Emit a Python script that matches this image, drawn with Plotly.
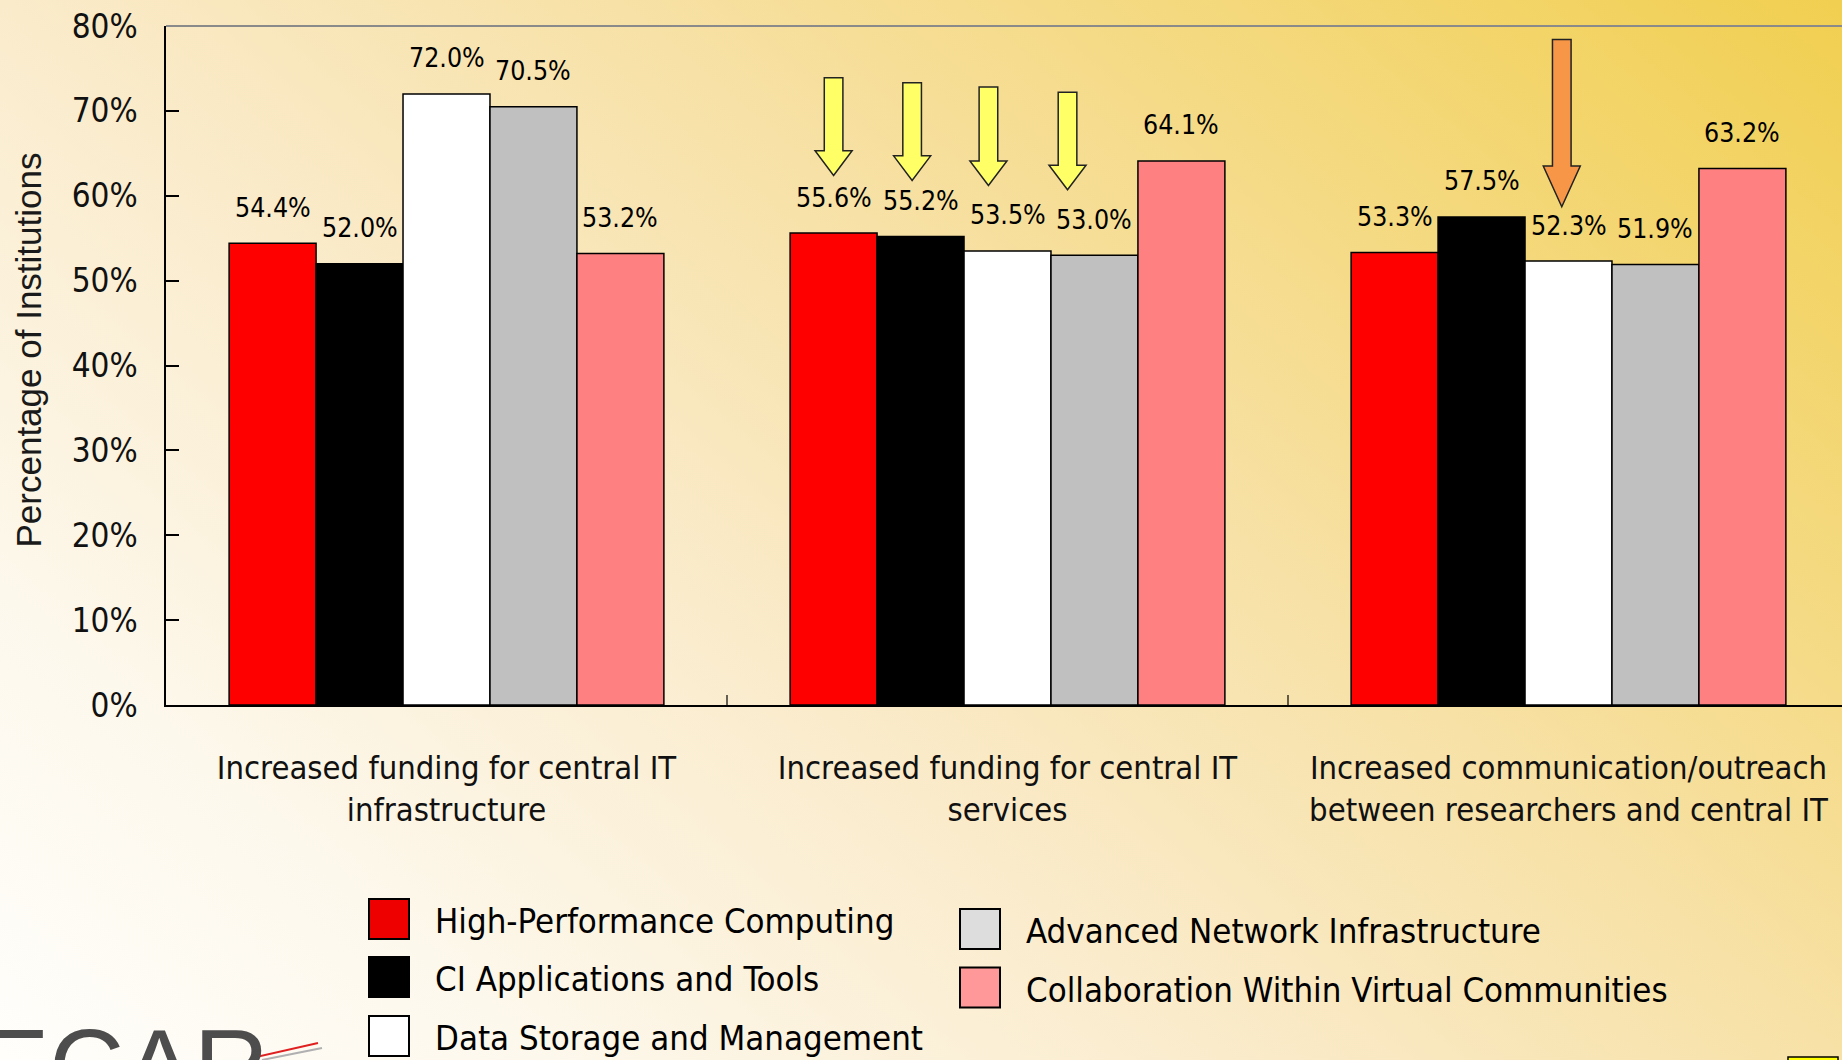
import base64
import plotly.graph_objects as go

# ---------------- data ----------------
categories = [
    "Increased funding for central IT<br>infrastructure",
    "Increased funding for central IT<br>services",
    "Increased communication/outreach<br>between researchers and central IT",
]
series_names = [
    "High-Performance Computing",
    "CI Applications and Tools",
    "Data Storage and Management",
    "Advanced Network Infrastructure",
    "Collaboration Within Virtual Communities",
]
hpc = [54.4, 55.6, 53.3]
ci_apps = [52.0, 55.2, 57.5]
data_storage = [72.0, 53.5, 52.3]
network = [70.5, 53.0, 51.9]
collab = [53.2, 64.1, 63.2]
y_ticks = [0, 10, 20, 30, 40, 50, 60, 70, 80]
y_tick_labels = [f"{v}%" for v in y_ticks]

series_values = [hpc, ci_apps, data_storage, network, collab]

# ---------------- styles ----------------
bar_colors = ["#FF0000", "#000000", "#FFFFFF", "#C0C0C0", "#FF8080"]
legend_colors = ["#EE0000", "#000000", "#FFFFFF", "#DDDDDD", "#FF9999"]
NARROW = "DejaVu Sans Condensed, Liberation Sans Narrow, sans-serif"
REGULAR = "Liberation Sans, Arial, sans-serif"

W, H = 1842, 1060
ML, MR, MT, MB = 166, 0, 26, 355
PW, PH = W - ML - MR, H - MT - MB
CAT_PX = 561.0
BARGAP = 0.225
N = len(series_names)
BW = (1 - BARGAP) / N


def px_x(px):
    return (px - ML) / PW


def px_y(py):
    return (H - MB - py) / PH


xpos = list(range(len(categories)))

fig = go.Figure()
for name, vals, col in zip(series_names, series_values, bar_colors):
    fig.add_trace(go.Bar(
        x=xpos, y=vals, name=name, marker=dict(color=col, line=dict(color="black", width=1.5)),
        showlegend=False, hoverinfo="skip",
    ))

annotations = []
shapes = []

# value labels
for i, vals in enumerate(series_values):
    for g, v in enumerate(vals):
        annotations.append(dict(
            x=g + (i - (N - 1) / 2) * BW, y=v, xref="x", yref="y", text=f"{v:.1f}%",
            showarrow=False, yshift=36, xanchor="center", yanchor="middle",
            font=dict(family=NARROW, size=26.5, color="black"),
        ))

# block arrows (highlight marks)
arrows = [
    dict(series=0, group=1, dx=0.0, tip=62.4, top=73.9, head=2.9, fill="#FFFF66"),
    dict(series=1, group=1, dx=-0.015, tip=61.8, top=73.3, head=2.9, fill="#FFFF66"),
    dict(series=2, group=1, dx=-0.034, tip=61.2, top=72.8, head=2.9, fill="#FFFF66"),
    dict(series=3, group=1, dx=-0.048, tip=60.7, top=72.2, head=2.9, fill="#FFFF66"),
    dict(series=2, group=2, dx=-0.012, tip=58.7, top=78.4, head=4.8, fill="#F79646"),
]
SW, HW = 0.0166, 0.033
for a in arrows:
    cx = a["group"] + (a["series"] - (N - 1) / 2) * BW + a["dx"]
    t, tp, hb = a["tip"], a["top"], a["tip"] + a["head"]
    path = (f"M{cx - SW},{tp} L{cx + SW},{tp} L{cx + SW},{hb} L{cx + HW},{hb} "
            f"L{cx},{t} L{cx - HW},{hb} L{cx - SW},{hb} Z")
    shapes.append(dict(type="path", path=path, xref="x", yref="y",
                       fillcolor=a["fill"], line=dict(color="#222222", width=1.5), layer="above"))

# category boundary ticks on x axis
for g in xpos[:-1]:
    shapes.append(dict(type="line", xref="x", yref="paper", x0=g + 0.5, x1=g + 0.5,
                       y0=0, y1=10 / PH, line=dict(color="black", width=1.2)))

# top border of plot area
shapes.append(dict(type="line", xref="paper", yref="paper", x0=0, x1=1, y0=1, y1=1,
                   line=dict(color="#8A8A8A", width=2)))

# manual legend
legend_layout = [
    (369, 919), (369, 977), (369, 1036),
    (960, 929), (960, 987.5),
]
for (bx, by), name, col in zip(legend_layout, series_names, legend_colors):
    shapes.append(dict(type="rect", xref="paper", yref="paper",
                       x0=px_x(bx), x1=px_x(bx + 40), y0=px_y(by - 20), y1=px_y(by + 20),
                       fillcolor=col, line=dict(color="black", width=2)))
    annotations.append(dict(x=px_x(bx + 64), y=px_y(by + 2), xref="paper", yref="paper",
                            text=name, showarrow=False, xanchor="left", yanchor="middle",
                            font=dict(family=NARROW, size=34.5, color="black")))

# y-axis title
annotations.append(dict(x=px_x(28), y=px_y(550), xref="paper", yref="paper",
                        text="Percentage of Institutions",
                        textangle=-90, showarrow=False, xanchor="center", yanchor="bottom",
                        font=dict(family=REGULAR, size=35, color="#1a1a1a")))

# logo fragment bottom-left
annotations.append(dict(x=px_x(-22), y=px_y(1006), xref="paper", yref="paper", text="ECAR",
                        showarrow=False, xanchor="left", yanchor="top",
                        font=dict(family=REGULAR, size=104, color="#4d4d4d")))
shapes.append(dict(type="line", xref="paper", yref="paper", x0=px_x(252), x1=px_x(318),
                   y0=px_y(1058), y1=px_y(1043), line=dict(color="#E02020", width=2)))
shapes.append(dict(type="line", xref="paper", yref="paper", x0=px_x(262), x1=px_x(322),
                   y0=px_y(1060), y1=px_y(1048), line=dict(color="#B0B0B0", width=2)))

# small yellow box bottom-right
shapes.append(dict(type="rect", xref="paper", yref="paper", x0=px_x(1788), x1=px_x(1838),
                   y0=px_y(1057), y1=px_y(1080), fillcolor="#FFFF00",
                   line=dict(color="black", width=1.5)))

# gradient background
svg = (
    f'<svg xmlns="http://www.w3.org/2000/svg" width="{W}" height="{H}" viewBox="0 0 {W} {H}" '
    f'preserveAspectRatio="none"><defs><linearGradient id="g" gradientUnits="userSpaceOnUse" '
    f'x1="0" y1="{H}" x2="1310" y2="-458">'
    '<stop offset="0" stop-color="#FFFEFB"/>'
    '<stop offset="0.18" stop-color="#FDF8EC"/>'
    '<stop offset="0.4" stop-color="#FAEBCB"/>'
    '<stop offset="0.6" stop-color="#F7E1A6"/>'
    '<stop offset="1" stop-color="#F1CF50"/>'
    f'</linearGradient></defs><rect width="{W}" height="{H}" fill="url(#g)"/></svg>'
)
bg_src = "data:image/svg+xml;base64," + base64.b64encode(svg.encode()).decode()

fig.update_layout(
    width=W, height=H, autosize=False,
    margin=dict(l=ML, r=MR, t=MT, b=MB, pad=0, autoexpand=False),
    barmode="group", bargap=BARGAP, bargroupgap=0,
    paper_bgcolor="#FBEFD2", plot_bgcolor="rgba(0,0,0,0)",
    showlegend=False,
    annotations=annotations, shapes=shapes,
    images=[dict(source=bg_src, xref="paper", yref="paper", x=px_x(0), y=px_y(0),
                 sizex=W / PW, sizey=H / PH, xanchor="left", yanchor="top",
                 sizing="stretch", layer="below")],
    xaxis=dict(
        range=[-0.5, -0.5 + PW / CAT_PX], tickmode="array", tickvals=xpos, ticktext=categories,
        ticks="", showline=True, linecolor="black", linewidth=1.5, showgrid=False, zeroline=False,
        tickangle=0, automargin=False,
        tickfont=dict(family=NARROW, size=32.5, color="#111111"), ticklabelstandoff=33,
    ),
    yaxis=dict(
        range=[0, 80], tickmode="array", tickvals=y_ticks, ticktext=y_tick_labels,
        ticks="inside", ticklen=13, tickwidth=1.5, tickcolor="black", automargin=False,
        showline=True, linecolor="black", linewidth=1.5, showgrid=False, zeroline=False,
        tickfont=dict(family=NARROW, size=33, color="#111111"), ticklabelstandoff=20,
    ),
)

fig.write_html("out.html", config={"displayModeBar": False},
               post_script="document.body.style.margin='0';")
